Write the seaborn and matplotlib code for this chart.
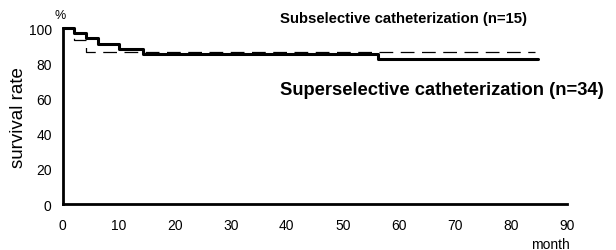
import matplotlib
matplotlib.use("Agg")
import pandas as pd
import matplotlib.pyplot as plt
import seaborn as sns

# survival curves (months, %)
super_months = [0, 2.0, 4.2, 6.2, 10.0, 14.3, 56.3, 84.8]
super_rate = [100, 97.1, 94.1, 91.2, 88.2, 85.3, 82.4, 82.4]
sub_months = [0, 2.0, 4.2, 84.3]
sub_rate = [100, 93.3, 86.7, 86.7]

x_ticks = [0, 10, 20, 30, 40, 50, 60, 70, 80, 90]
y_ticks = [0, 20, 40, 60, 80, 100]

sns.set_style("white")
plt.rcParams["font.family"] = ["Liberation Sans", "DejaVu Sans"]
plt.rcParams["text.color"] = "black"
plt.rcParams["axes.labelcolor"] = "black"
plt.rcParams["xtick.color"] = "black"
plt.rcParams["ytick.color"] = "black"

df_super = pd.DataFrame({"month": super_months, "rate": super_rate})
df_sub = pd.DataFrame({"month": sub_months, "rate": sub_rate})

fig = plt.figure(figsize=(6.16, 2.51), dpi=100)
ax = fig.add_axes([0.102, 0.183, 0.818, 0.701])

sns.lineplot(data=df_sub, x="month", y="rate", ax=ax, estimator=None,
             drawstyle="steps-post", color="black", lw=0.9,
             dashes=False, clip_on=False)
ax.lines[-1].set_dashes([11, 6])
sns.lineplot(data=df_super, x="month", y="rate", ax=ax, estimator=None,
             drawstyle="steps-post", color="black", lw=2.2, clip_on=False)

ax.set_xlim(0, 90)
ax.set_ylim(0, 100)
ax.set_xticks(x_ticks)
ax.set_yticks(y_ticks)
ax.tick_params(axis="x", direction="in", length=3, width=1, labelsize=10, pad=10)
ax.tick_params(axis="y", length=0, labelsize=10, pad=8)
for s in ["top", "right"]:
    ax.spines[s].set_visible(False)
for s in ["left", "bottom"]:
    ax.spines[s].set_linewidth(2)
    ax.spines[s].set_color("black")

ax.set_xlabel("")
ax.set_ylabel("survival rate", fontsize=13.5)
ax.yaxis.set_label_coords(-0.072, 0.5)
ax.text(-0.5, 107.5, "%", ha="center", va="center", fontsize=9)
ax.text(87, -22.5, "month", ha="center", va="center", fontsize=10,
        clip_on=False)

ax.text(38.8, 105.7, "Subselective catheterization (n=15)", fontsize=10.7,
        fontweight="bold", va="center")
ax.text(38.8, 65.3, "Superselective catheterization (n=34)", fontsize=13.2,
        fontweight="bold", va="center")

plt.savefig("out.png", dpi=100)
